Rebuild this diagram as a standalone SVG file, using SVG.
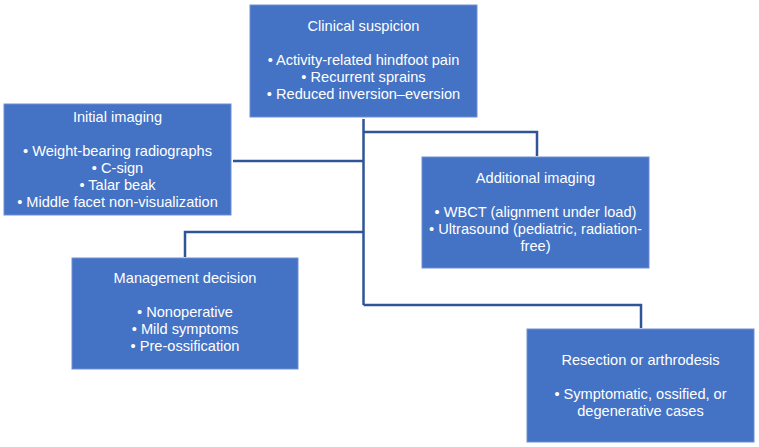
<svg xmlns="http://www.w3.org/2000/svg" width="759" height="447" viewBox="0 0 759 447">
<style>
.box{fill:#4472C4;stroke:#6F8FD2;stroke-width:1}
.t{font-family:"Liberation Sans",Arial,sans-serif;font-size:14.6px;fill:#FFFFFF;text-anchor:middle}
.c{fill:none;stroke:#2F5597;stroke-width:2.5}
</style>
<rect width="759" height="447" fill="#FFFFFF"/>
<g id="connectors">
<path class="c" d="M363.5 119 V305"/>
<path class="c" d="M363.5 132 H537 V156"/>
<path class="c" d="M233 161 H363.5"/>
<path class="c" d="M363.5 232 H185 V257"/>
<path class="c" d="M363.5 305 H641 V328"/>
</g>
<g id="clinical">
<rect class="box" x="250" y="5" width="227" height="112"/>
<text class="t" x="363.5" y="31">Clinical suspicion</text>
<text class="t" x="363.5" y="65">• Activity-related hindfoot pain</text>
<text class="t" x="363.5" y="82">• Recurrent sprains</text>
<text class="t" x="363.5" y="99">• Reduced inversion–eversion</text>
</g>
<g id="initial">
<rect class="box" x="4" y="104" width="227" height="111"/>
<text class="t" x="117.5" y="122">Initial imaging</text>
<text class="t" x="117.5" y="156">• Weight-bearing radiographs</text>
<text class="t" x="117.5" y="173">• C-sign</text>
<text class="t" x="117.5" y="190">• Talar beak</text>
<text class="t" x="117.5" y="207">• Middle facet non-visualization</text>
</g>
<g id="additional">
<rect class="box" x="422" y="157" width="227" height="111"/>
<text class="t" x="535.5" y="183">Additional imaging</text>
<text class="t" x="535.5" y="217">• WBCT (alignment under load)</text>
<text class="t" x="535.5" y="234">• Ultrasound (pediatric, radiation-</text>
<text class="t" x="535.5" y="251">free)</text>
</g>
<g id="management">
<rect class="box" x="72" y="258" width="226" height="111"/>
<text class="t" x="185" y="283">Management decision</text>
<text class="t" x="185" y="317">• Nonoperative</text>
<text class="t" x="185" y="334">• Mild symptoms</text>
<text class="t" x="185" y="351">• Pre-ossification</text>
</g>
<g id="resection">
<rect class="box" x="527" y="329" width="227" height="113"/>
<text class="t" x="640.5" y="365">Resection or arthrodesis</text>
<text class="t" x="640.5" y="399">• Symptomatic, ossified, or</text>
<text class="t" x="640.5" y="416">degenerative cases</text>
</g>
</svg>
